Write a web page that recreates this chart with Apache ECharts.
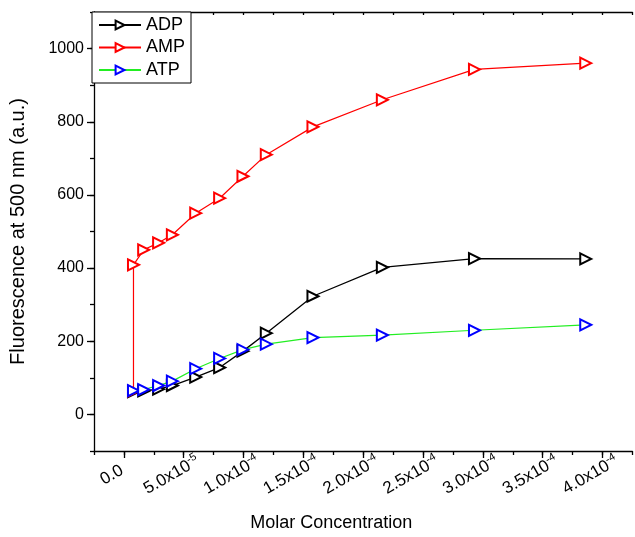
<!DOCTYPE html>
<html>
<head>
<meta charset="utf-8">
<script src="https://cdn.jsdelivr.net/npm/echarts@6/dist/echarts.min.js"></script>
<style>
  html, body { margin: 0; padding: 0; background: #fff; }
  #main { width: 635px; height: 537px; }
</style>
</head>
<body>
<div id="main"></div>
<script>
// molar concentrations of the additions
var conc = [0.8e-5, 1.65e-5, 2.9e-5, 4.05e-5, 6.0e-5, 8.0e-5, 9.95e-5, 11.9e-5, 15.8e-5, 21.6e-5, 29.3e-5, 38.6e-5];
var ampConc = [0.8e-5].concat(conc);

var adp = [62, 64, 69, 79, 102, 128, 173, 222, 323, 402, 426, 425];
var amp = [64, 409, 450, 469, 491, 550, 591, 651, 710, 786, 860, 943, 960];
var atp = [65, 68, 79, 91, 125, 153, 177, 192, 210, 217, 230, 245];

var yMajor = [0, 200, 400, 600, 800, 1000];
var xMajor = [0, 5e-5, 1e-4, 1.5e-4, 2e-4, 2.5e-4, 3e-4, 3.5e-4, 4e-4];

function pairs(xs, ys) {
  return ys.map(function (y, i) { return [xs[i], y]; });
}

function xLabel(v) {
  var n = Math.round(v / 2.5e-5);
  if (n < 0 || n % 2) return '';
  if (n === 0) return '{b|0.0}';
  var val = n * 2.5e-5;
  var e = Math.floor(Math.log10(val) + 1e-9);
  var m = val / Math.pow(10, e);
  return '{b|' + m.toFixed(1) + 'x10}{s|' + e + '}';
}

var font = 'Liberation Sans, Arial, sans-serif';
var chart = echarts.init(document.getElementById('main'));

var xMin = -2.5e-5, xMax = 4.25e-4;
var black = { color: '#000', width: 1.3 };

var option = {
  animation: false,
  backgroundColor: '#fff',
  textStyle: { fontFamily: font },
  grid: { left: 92, right: 0, top: 12, bottom: 85 },
  legend: {
    left: 92, top: 12,
    orient: 'vertical',
    data: ['ADP', 'AMP', 'ATP'],
    itemWidth: 42, itemHeight: 11, itemGap: 2.5,
    padding: [3, 6, 3, 6],
    borderColor: '#000', borderWidth: 1,
    backgroundColor: '#fff',
    symbolRotate: 'inherit',
    textStyle: { fontSize: 18, color: '#000', lineHeight: 20, fontFamily: font }
  },
  xAxis: [
    {
      type: 'value', min: xMin, max: xMax, interval: 2.5e-5,
      position: 'bottom',
      name: 'Molar Concentration', nameLocation: 'middle', nameGap: 63,
      nameTextStyle: { fontSize: 18, color: '#000', padding: [0, 64, 0, 0] },
      axisLine: { onZero: false, lineStyle: black },
      axisTick: { length: 4, lineStyle: black },
      splitLine: { show: false },
      axisLabel: {
        rotate: 30, margin: 17, color: '#000', hideOverlap: false,
        align: 'center', verticalAlign: 'middle',
        padding: [0, 28, 0, 0],
        formatter: xLabel,
        rich: {
          b: { fontSize: 17, lineHeight: 20, color: '#000', fontFamily: font },
          s: { fontSize: 11, lineHeight: 20, verticalAlign: 'top', color: '#000', fontFamily: font, padding: [0, 0, 8, 0] }
        }
      }
    },
    {
      type: 'value', min: xMin, max: xMax, position: 'bottom',
      axisLine: { show: false, onZero: false },
      axisTick: { length: 7, customValues: xMajor, lineStyle: black },
      axisLabel: { show: false },
      splitLine: { show: false }
    },
    {
      type: 'value', min: xMin, max: xMax, interval: 2.5e-5, position: 'top',
      axisLine: { onZero: false, lineStyle: black },
      axisTick: { inside: true, length: 3, lineStyle: black },
      axisLabel: { show: false },
      splitLine: { show: false }
    }
  ],
  yAxis: [
    {
      type: 'value', min: -100, max: 1100, interval: 100,
      position: 'left',
      name: 'Fluorescence at 500 nm (a.u.)', nameLocation: 'middle', nameGap: 66,
      nameTextStyle: { fontSize: 20, color: '#000' },
      axisLine: { onZero: false, lineStyle: black },
      axisTick: { length: 4, lineStyle: black },
      splitLine: { show: false },
      axisLabel: {
        fontSize: 16, color: '#000', margin: 10,
        formatter: function (v) {
          return (v >= 0 && v <= 1000 && v % 200 === 0) ? String(v) : '';
        }
      }
    },
    {
      type: 'value', min: -100, max: 1100, position: 'left',
      axisLine: { show: false, onZero: false },
      axisTick: { length: 7, customValues: yMajor, lineStyle: black },
      axisLabel: { show: false },
      splitLine: { show: false }
    }
  ],
  series: [
    {
      name: 'ADP', type: 'line', data: pairs(conc, adp),
      symbol: 'emptyTriangle', symbolSize: 11, symbolRotate: -90,
      itemStyle: { color: '#000', borderWidth: 1 },
      lineStyle: { color: '#000', width: 1.3 }
    },
    {
      name: 'AMP', type: 'line', data: pairs(ampConc, amp),
      symbol: 'emptyTriangle', symbolSize: 11, symbolRotate: -90,
      itemStyle: { color: '#ff0000', borderWidth: 1 },
      lineStyle: { color: '#ff0000', width: 1.2 }
    },
    {
      name: 'ATP', type: 'line', data: pairs(conc, atp),
      symbol: 'emptyTriangle', symbolSize: 11, symbolRotate: -90,
      itemStyle: { color: '#0000ff', borderWidth: 1 },
      lineStyle: { color: '#22ee22', width: 1.2 }
    }
  ]
};

chart.setOption(option);
</script>
</body>
</html>
